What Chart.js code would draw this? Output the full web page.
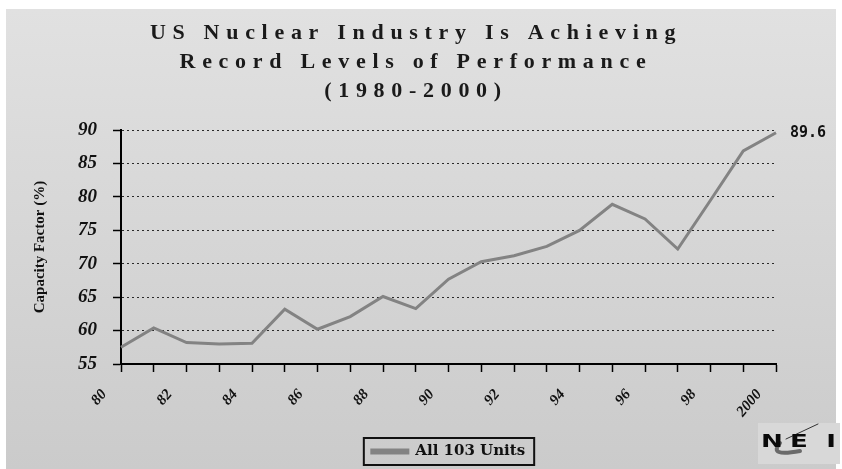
<!DOCTYPE html>
<html><head><meta charset="utf-8">
<script src="https://cdn.jsdelivr.net/npm/chart.js@4"></script>
<style>
html,body{margin:0;padding:0;background:#fff;}
#wrap{position:absolute;left:0;top:0;width:842px;height:469px;overflow:hidden;}
#bg{position:absolute;left:6px;top:9px;width:830px;height:460px;background:linear-gradient(#e1e1e1,#cbcbcb);}
canvas{position:absolute;left:0;top:0;}
</style></head><body>
<div id="wrap"><div id="bg"></div><canvas id="c" width="842" height="469" style="width:842px;height:469px"></canvas></div>
<script>
const titleLines = ['US Nuclear Industry Is Achieving', 'Record Levels of Performance', '(1980-2000)'];
const years = ['1980','1981','1982','1983','1984','1985','1986','1987','1988','1989','1990',
               '1991','1992','1993','1994','1995','1996','1997','1998','1999','2000'];
const tickLabels = ['80','','82','','84','','86','','88','','90','','92','','94','','96','','98','','2000'];
const capacityFactor = [57.5, 60.4, 58.2, 58.0, 58.1, 63.2, 60.2, 62.1, 65.1, 63.3, 67.7,
                        70.3, 71.2, 72.6, 75.0, 78.9, 76.7, 72.2, 79.5, 86.9, 89.6];
const seriesName = 'All 103 Units';
const yAxisTitle = 'Capacity Factor (%)';
const yMin = 55, yMax = 90, yStep = 5;
const logoText = 'NEI';

const LEFT_PAD = 22, PLOT_LEFT = 121, X_AXIS_H = 70;

const titleSpacing = {
  id: 'titleSpacing',
  beforeDraw(chart) {
    const tb = chart.titleBlock;
    if (tb && !tb._spaced) {
      const orig = tb.draw;
      tb.draw = function (...a) {
        const c = this.ctx; c.save(); c.letterSpacing = '6.7px'; c.translate(17, 0); orig.apply(this, a); c.restore();
      };
      tb._spaced = true;
    }
  }
};

const legendFrame = {
  id: 'legendFrame',
  afterDraw(chart) {
    const lg = chart.legend;
    if (!lg || !lg.legendHitBoxes || !lg.legendHitBoxes.length) return;
    const hb = lg.legendHitBoxes[0];
    const ctx = chart.ctx;
    ctx.save();
    ctx.strokeStyle = '#111'; ctx.lineWidth = 2;
    const cy = hb.top + hb.height / 2;
    ctx.strokeRect(hb.left - 8, cy - 13.5, hb.width + 17, 27);
    ctx.restore();
  }
};

const endLabel = {
  id: 'endLabel',
  afterDatasetsDraw(chart) {
    const meta = chart.getDatasetMeta(0);
    const n = meta.data.length - 1;
    const pt = meta.data[n];
    const ctx = chart.ctx;
    ctx.save();
    ctx.font = 'bold 15px "DejaVu Sans Mono"';
    ctx.fillStyle = '#111'; ctx.textBaseline = 'middle'; ctx.textAlign = 'left';
    ctx.fillText(capacityFactor[n].toFixed(1), pt.x + 14, pt.y);
    ctx.restore();
  }
};

const logo = {
  id: 'logo',
  afterDraw(chart) {
    const ctx = chart.ctx;
    const x0 = chart.width - 84, y0 = chart.height - 46;
    ctx.save();
    ctx.fillStyle = '#d8d8d8';
    ctx.fillRect(x0, y0, 82, 41);
    ctx.strokeStyle = '#6a6a6a'; ctx.lineWidth = 4; ctx.lineCap = 'round';
    ctx.beginPath(); ctx.moveTo(x0 + 22, y0 + 20); ctx.quadraticCurveTo(x0 + 10, y0 + 34, x0 + 42, y0 + 28); ctx.stroke();
    ctx.strokeStyle = '#333'; ctx.lineWidth = 1;
    ctx.beginPath(); ctx.moveTo(x0 + 28, y0 + 16); ctx.lineTo(x0 + 60, y0 + 1); ctx.stroke();
    ctx.fillStyle = '#0a0a0a';
    ctx.font = 'bold 18px "DejaVu Sans"';
    ctx.textBaseline = 'alphabetic';
    ctx.translate(x0 + 3, y0 + 24);
    ctx.scale(1.45, 1);
    ctx.fillText(logoText[0], 0, 0);
    ctx.fillText(logoText[1], 20, 0);
    ctx.fillText(logoText[2], 45, 0);
    ctx.restore();
  }
};

new Chart(document.getElementById('c'), {
  type: 'line',
  data: {
    labels: years,
    datasets: [{
      label: seriesName,
      data: capacityFactor,
      borderColor: '#838383',
      backgroundColor: '#838383',
      borderWidth: 3,
      pointRadius: 0,
      tension: 0
    }]
  },
  options: {
    responsive: false,
    animation: false,
    layout: { padding: { left: LEFT_PAD, right: 66, top: 0, bottom: 0 } },
    plugins: {
      title: {
        display: true,
        text: titleLines,
        color: '#1a1a1a',
        font: { family: 'Liberation Serif', size: 22, weight: 'bold', lineHeight: 1.32 },
        padding: { top: 19, bottom: 24 }
      },
      legend: {
        display: true,
        position: 'bottom',
        fullSize: false,
        labels: {
          boxWidth: 36, boxHeight: 3, padding: 10,
          color: '#111',
          font: { family: 'DejaVu Serif', size: 15, weight: 'bold' }
        }
      },
      tooltip: { enabled: false }
    },
    scales: {
      x: {
        type: 'category',
        offset: false,
        ticks: {
          autoSkip: false, minRotation: 50, maxRotation: 50,
          labelOffset: -17, padding: 14,
          color: '#111',
          font: { family: 'Liberation Serif', size: 15, weight: 'bold', style: 'italic' },
          callback: (v, i) => tickLabels[i]
        },
        grid: { drawOnChartArea: false, drawTicks: true, tickLength: 8, tickColor: '#000', tickWidth: 1.5 },
        border: { display: true, color: '#000', width: 2 },
        afterFit(s) { s.height = X_AXIS_H; }
      },
      y: {
        min: yMin, max: yMax,
        ticks: {
          stepSize: yStep, padding: 16, color: '#111',
          font: { family: 'Liberation Serif', size: 19, weight: 'bold', style: 'italic' }
        },
        grid: { color: '#2a2a2a', lineWidth: 1, tickLength: 8, tickColor: '#000', tickWidth: 1.5, tickBorderDash: [] },
        border: { display: true, color: '#000', width: 2, dash: [2, 3] },
        title: {
          display: true, text: yAxisTitle, color: '#111',
          font: { family: 'Liberation Serif', size: 15, weight: 'bold' },
          padding: { top: 9, bottom: 0 }
        },
        afterFit(s) { s.width = PLOT_LEFT - LEFT_PAD; }
      }
    }
  },
  plugins: [titleSpacing, legendFrame, endLabel, logo]
});
</script>
</body></html>
